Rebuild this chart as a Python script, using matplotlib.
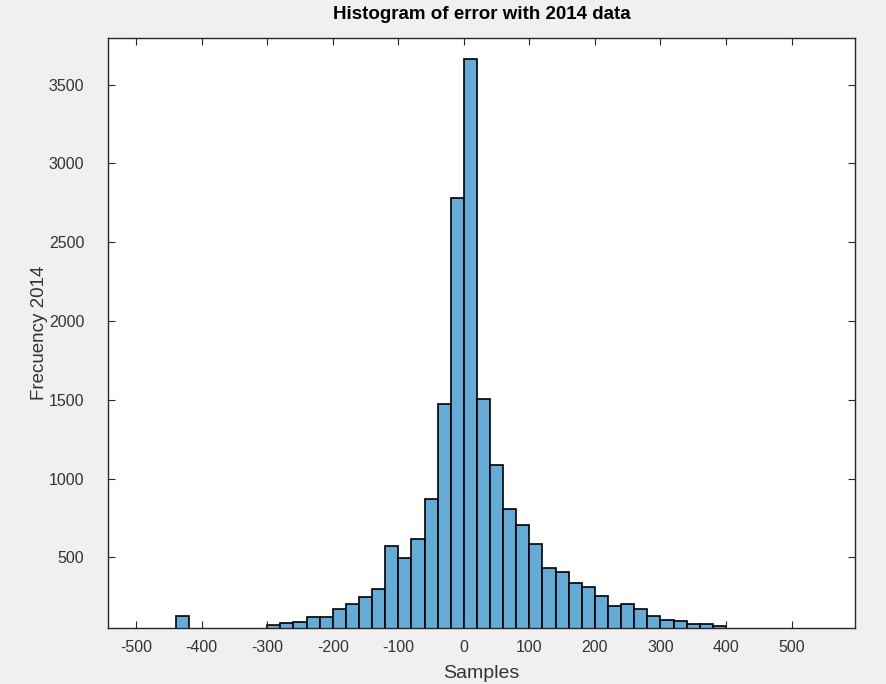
import numpy as np
import matplotlib
matplotlib.use("Agg")
import matplotlib.pyplot as plt

plt.rcParams['font.family'] = ['Liberation Sans', 'DejaVu Sans']
plt.rcParams['axes.unicode_minus'] = False

# histogram of the 2014 error, 20-wide bins starting at -440
bin_start = -440
bin_width = 20
counts = [128, 0, 0, 0, 0, 0, 0,
          70, 82, 92, 124, 124, 173, 202, 247, 302,
          575, 497, 617, 870, 1471, 2778,
          3662, 1503, 1086, 805, 706, 585, 433, 409, 336, 312,
          257, 190, 202, 171, 125, 101, 96, 80, 80, 65]
xticks = [-500, -400, -300, -200, -100, 0, 100, 200, 300, 400, 500]
yticks = [500, 1000, 1500, 2000, 2500, 3000, 3500]

edges = bin_start + bin_width * np.arange(len(counts))

fig = plt.figure(figsize=(8.87, 6.84), dpi=100, facecolor='#f0f0f0')
ax = fig.add_axes([0.1218, 0.0819, 0.8422, 0.8625])

ax.bar(edges, counts, width=bin_width, align='edge',
       color=(0.4, 0.668, 0.845), edgecolor='black', linewidth=1.2)

ax.set_xlim(-543, 597)
ax.set_ylim(52, 3795)
ax.set_xticks(xticks)
ax.set_yticks(yticks)
ax.tick_params(direction='in', top=True, right=True, length=5, width=0.8,
               colors='#262626', labelsize=11.5, labelcolor='#333333')
ax.tick_params(axis='x', pad=9)
ax.tick_params(axis='y', pad=17)
for s in ax.spines.values():
    s.set_linewidth(1.0)
    s.set_color('#262626')

ax.set_title('Histogram of error with 2014 data', fontsize=13.5,
             fontweight='bold', pad=14)
ax.set_xlabel('Samples', fontsize=14, color='#333333', labelpad=7)
ax.set_ylabel('Frecuency 2014', fontsize=13.5, color='#333333', labelpad=1)

fig.savefig('out.png', dpi=100, facecolor=fig.get_facecolor())
